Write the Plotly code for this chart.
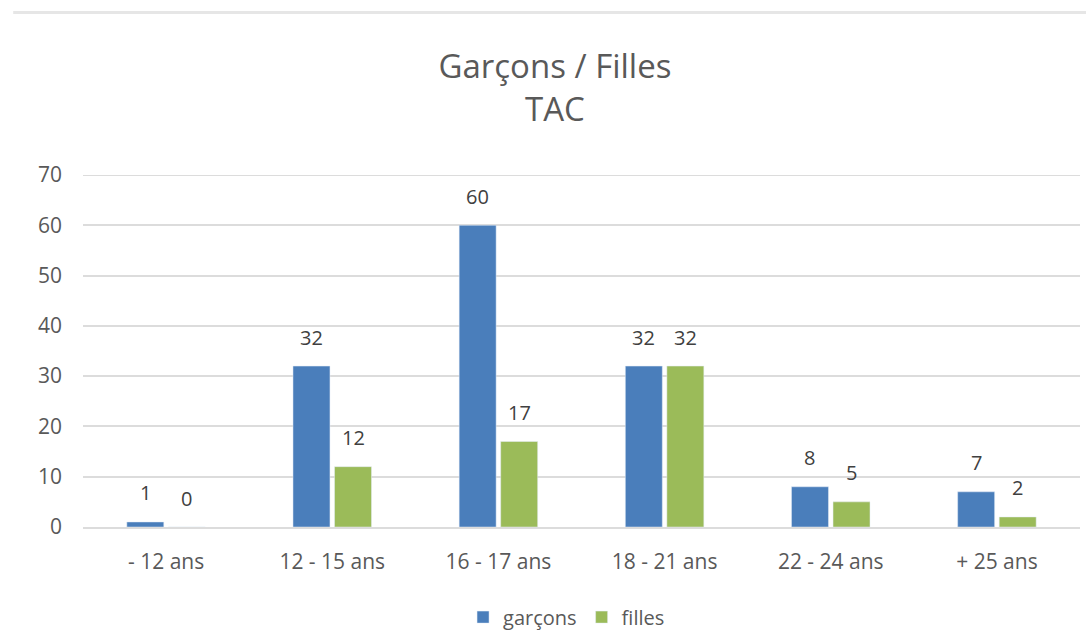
import plotly.graph_objects as go

categories = ["- 12 ans", "12 - 15 ans", "16 - 17 ans", "18 - 21 ans", "22 - 24 ans", "+ 25 ans"]
garcons = [1, 32, 60, 32, 8, 7]
filles = [0, 12, 17, 32, 5, 2]
y_ticks = [0, 10, 20, 30, 40, 50, 60, 70]

FONT = "Open Sans"
TXT = "#595959"
LBL = "#404040"
BLUE = "#4a7ebb"
GREEN = "#9bbb59"

W, H = 1086, 638
ML, MR, MT, MB = 83, 6, 175, 111
BARGAP = 0.5

fig = go.Figure()
fig.add_trace(go.Bar(name="garçons", x=categories, y=garcons, marker_color=BLUE))
fig.add_trace(go.Bar(name="filles", x=categories, y=filles, marker_color=GREEN))

# value labels placed above each bar (offset within the group in pixels)
cat_px = (W - ML - MR) / len(categories)
slot = cat_px * (1 - BARGAP) / 2
annotations = []
for series, sign in ((garcons, -1), (filles, 1)):
    for c, v in zip(categories, series):
        annotations.append(dict(x=c, y=v, xref="x", yref="y", text=str(v),
                                showarrow=False, xshift=sign * slot / 2, yshift=29,
                                yanchor="middle",
                                font=dict(size=20, color=LBL, family=FONT)))

fig.update_layout(
    width=W, height=H,
    margin=dict(l=ML, r=MR, t=MT, b=MB, autoexpand=False),
    paper_bgcolor="white", plot_bgcolor="white",
    barmode="group", bargap=BARGAP, bargroupgap=0.11,
    font=dict(family=FONT, color=TXT),
    title=dict(text="Garçons / Filles<br>TAC", x=0.511, xanchor="center",
               y=0.878, yanchor="middle",
               font=dict(size=33, color=TXT, family=FONT)),
    xaxis=dict(showgrid=False, showline=True, linecolor="#dcdcdc", linewidth=2,
               ticks="", ticklabelstandoff=15, automargin=False,
               tickfont=dict(size=21, color=TXT)),
    yaxis=dict(range=[0, 70], tickvals=y_ticks, showgrid=True, gridcolor="#dcdcdc",
               gridwidth=2, zeroline=False, ticks="", ticklabelstandoff=20,
               automargin=False, tickfont=dict(size=21, color=TXT)),
    legend=dict(orientation="h", x=0.485, xanchor="center", y=-0.256, yanchor="middle",
                font=dict(size=20, color=TXT, family=FONT), itemwidth=30),
    annotations=annotations,
    shapes=[
        dict(type="line", xref="paper", yref="y", x0=0, x1=1, y0=70, y1=70,
             line=dict(color="#dcdcdc", width=2)),
        dict(type="line", xref="paper", yref="paper", x0=-0.07, x1=1.01,
             y0=1.462, y1=1.462, line=dict(color="#e6e6e6", width=3)),
    ],
)

fig.write_html("out.html")
